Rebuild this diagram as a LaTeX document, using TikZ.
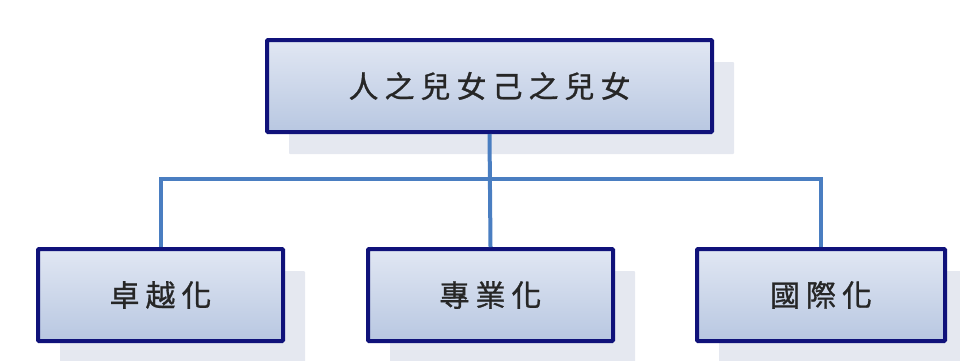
\documentclass[tikz,border=0pt]{standalone}
\usepackage{fontspec}
\usetikzlibrary{shadows}
\newfontfamily\cjk[LetterSpace=20,FakeBold=1]{Noto Sans CJK TC}
\definecolor{boxedge}{RGB}{16,18,122}
\definecolor{boxtop}{RGB}{225,231,243}
\definecolor{boxbot}{RGB}{184,199,225}
\definecolor{linkblue}{RGB}{74,126,193}
\definecolor{shadegray}{RGB}{229,232,240}
\begin{document}
\begin{tikzpicture}[
    x=1pt,y=-1pt,
    orgbox/.style={draw=boxedge,line width=4pt,rounded corners=1pt,
        top color=boxtop,bottom color=boxbot,
        minimum height=92pt,inner sep=0pt,
        general shadow={fill=shadegray,shadow xshift=22pt,shadow yshift=-22pt},
        text=black!85,font=\cjk\fontsize{30}{34}\selectfont},
    link/.style={draw=linkblue,line width=4pt}]
    \useasboundingbox (0,0) rectangle (960,360);
    % boxes
    \node[orgbox,minimum width=445pt] (top) at (489.5,86) {人之兒女己之兒女};
    \node[orgbox,minimum width=245pt] (left) at (160.5,295) {卓越化};
    \node[orgbox,minimum width=245pt] (mid) at (490.5,295) {專業化};
    \node[orgbox,minimum width=248pt] (right) at (821,295) {國際化};
    \coordinate (bus) at (490,179);
    % connectors
    \draw[link] (top.south) -- (mid.north);
    \draw[link] (top.south |- bus) -| (left.north);
    \draw[link] (top.south |- bus) -| (right.north);
\end{tikzpicture}
\end{document}
